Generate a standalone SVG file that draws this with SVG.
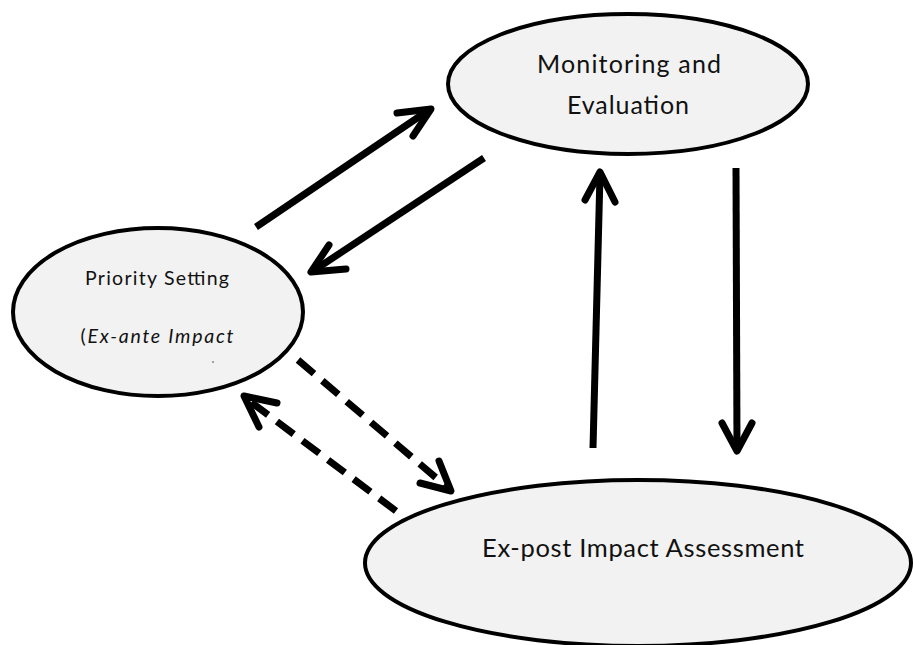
<svg xmlns="http://www.w3.org/2000/svg" width="913" height="645" viewBox="0 0 913 645">
  <style>
    .node { fill: #f2f2f2; stroke: #000; stroke-width: 4; }
    .label { font-family: Lato, "Open Sans", sans-serif; fill: #111; text-anchor: middle; }
    .shaft { fill: none; stroke: #000; stroke-width: 7; stroke-linecap: butt; }
    .dash { stroke-dasharray: 21 11; }
    .head { fill: none; stroke: #000; stroke-width: 7; stroke-linecap: round; stroke-linejoin: round; }
  </style>
  <rect width="913" height="645" fill="#fff"/>

  <g id="connectors">
    <!-- Priority Setting -> Monitoring and Evaluation -->
    <line class="shaft" x1="256" y1="227" x2="429" y2="110"/>
    <polyline class="head" points="397,113 431,109 413,136"/>
    <!-- Monitoring and Evaluation -> Priority Setting -->
    <line class="shaft" x1="484" y1="158" x2="313" y2="271"/>
    <polyline class="head" points="329,245 311,272 346,269"/>
    <!-- Ex-post -> Monitoring and Evaluation -->
    <line class="shaft" x1="593" y1="448" x2="600" y2="174"/>
    <polyline class="head" points="585,200 600,172 615,202"/>
    <!-- Monitoring and Evaluation -> Ex-post -->
    <line class="shaft" x1="736" y1="168" x2="737" y2="449"/>
    <polyline class="head" points="722,423 737,451 752,423"/>
    <!-- Priority Setting -> Ex-post (dashed) -->
    <line class="shaft dash" x1="298" y1="360" x2="448" y2="488"/>
    <polyline class="head" points="420,483 451,491 439,461"/>
    <!-- Ex-post -> Priority Setting (dashed) -->
    <line class="shaft dash" x1="396" y1="511" x2="247" y2="399"/>
    <polyline class="head" points="277,403 244,396 259,427"/>
  </g>

  <g id="monitoring">
    <ellipse class="node" cx="628" cy="84" rx="180" ry="70"/>
    <text class="label" x="629" y="73" font-size="25" textLength="184">Monitoring and</text>
    <text class="label" x="628" y="114" font-size="25" textLength="122">Evaluation</text>
  </g>

  <g id="priority">
    <ellipse class="node" cx="158" cy="312" rx="145" ry="84"/>
    <text class="label" x="157" y="285" font-size="19.5" textLength="144">Priority Setting</text>
    <text class="label" x="157" y="343" font-size="19.5" textLength="153">(<tspan font-style="italic">Ex-ante Impact</tspan></text>
    <!-- small stray mark below the second line -->
    <rect x="212" y="361.5" width="2" height="1" fill="#555"/>
  </g>

  <g id="expost">
    <ellipse class="node" cx="638" cy="563" rx="273" ry="83"/>
    <text class="label" x="643" y="557" font-size="25.5" textLength="322">Ex-post Impact Assessment</text>
  </g>
</svg>
